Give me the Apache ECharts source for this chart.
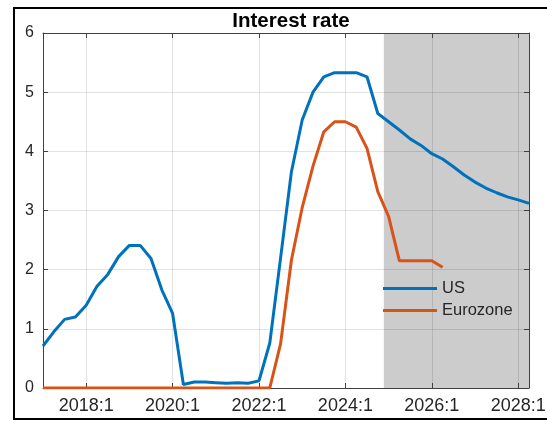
<!DOCTYPE html>
<html>
<head>
<meta charset="utf-8">
<script src="https://cdn.jsdelivr.net/npm/echarts@6/dist/echarts.min.js"></script>
<style>
html,body{margin:0;padding:0;background:#fff;}
#chart{width:547px;height:421px;}
</style>
</head>
<body>
<div id="chart"></div>
<script>
// Quarterly data starting 2017:1
const startYear = 2017;
const usRate = [0.71, 0.95, 1.16, 1.20, 1.40, 1.72, 1.92, 2.22, 2.41, 2.41,
  2.19, 1.66, 1.26, 0.06, 0.10, 0.10, 0.09, 0.08, 0.09, 0.08,
  0.12, 0.76, 2.20, 3.65, 4.53, 5.00, 5.26, 5.33, 5.33, 5.33,
  5.26, 4.64, 4.50, 4.36, 4.21, 4.10, 3.96, 3.87, 3.74, 3.60,
  3.48, 3.38, 3.30, 3.23, 3.18, 3.12];
const euroRate = [0, 0, 0, 0, 0, 0, 0, 0, 0, 0,
  0, 0, 0, 0, 0, 0, 0, 0, 0, 0,
  0, 0, 0.75, 2.16, 3.05, 3.75, 4.33, 4.50, 4.50, 4.41,
  4.05, 3.32, 2.90, 2.15, 2.15, 2.15, 2.15, 2.04];
const tickYears = [2018, 2020, 2022, 2024, 2026, 2028];
const forecastStart = 2024.89;
const xMax = 2028.25;

const toPairs = arr => arr.map((v, i) => [startYear + i / 4, v]);

const textColor = '#262626';
const axisColor = '#404040';
const font = 'Liberation Sans, Arial, sans-serif';

const chart = echarts.init(document.getElementById('chart'), null, {renderer: 'canvas'});
chart.setOption({
  animation: false,
  backgroundColor: '#fff',
  title: {
    text: 'Interest rate',
    left: 286, textAlign: 'center', top: 6,
    textStyle: {fontFamily: font, fontWeight: 'bold', fontSize: 20.5, color: '#000'}
  },
  grid: {left: 43, right: 18, top: 33, bottom: 33, containLabel: false, outerBoundsMode: 'none'},
  xAxis: [{
    type: 'value', min: startYear, max: xMax, z: 1,
    axisLine: {show: true, onZero: false, lineStyle: {color: axisColor, width: 1}},
    axisTick: {show: true, inside: true, length: 5, customValues: tickYears, lineStyle: {color: axisColor}},
    axisLabel: {customValues: tickYears, formatter: v => v + ':1', fontFamily: font, fontSize: 18, color: textColor, margin: 9},
    splitLine: {show: true, lineStyle: {color: 'rgba(0,0,0,0.11)', width: 1}}
  }, {
    type: 'value', min: startYear, max: xMax, position: 'top', z: 1,
    axisLine: {show: true, onZero: false, lineStyle: {color: axisColor, width: 1}},
    axisTick: {show: true, inside: true, length: 5, customValues: tickYears, lineStyle: {color: axisColor}},
    axisLabel: {show: false},
    splitLine: {show: false}
  }],
  yAxis: [{
    type: 'value', min: 0, max: 6, interval: 1, z: 1,
    axisLine: {show: true, onZero: false, lineStyle: {color: axisColor, width: 1}},
    axisTick: {show: true, inside: true, length: 5, lineStyle: {color: axisColor}},
    axisLabel: {fontFamily: font, fontSize: 16, color: textColor, margin: 9},
    splitLine: {show: true, lineStyle: {color: 'rgba(0,0,0,0.11)', width: 1}}
  }, {
    type: 'value', min: 0, max: 6, interval: 1, position: 'right', z: 1,
    axisLine: {show: true, onZero: false, lineStyle: {color: axisColor, width: 1}},
    axisTick: {show: true, inside: true, length: 5, lineStyle: {color: axisColor}},
    axisLabel: {show: false},
    splitLine: {show: false}
  }],
  legend: {
    left: 378, top: 275, orient: 'vertical', padding: 5,
    icon: 'rect', itemWidth: 54, itemHeight: 3, itemGap: 5,
    textStyle: {fontFamily: font, fontSize: 16.5, color: textColor, padding: [0, 0, 0, 0], lineHeight: 16},
    data: ['US', 'Eurozone']
  },
  series: [{
    type: 'line', name: 'shade', data: [], z: 0, silent: true,
    markArea: {
      silent: true, z: 0,
      itemStyle: {color: '#cccccc'},
      data: [[{xAxis: forecastStart}, {xAxis: xMax}]]
    }
  }, {
    type: 'line', name: 'US', data: toPairs(usRate),
    symbol: 'none', z: 3,
    lineStyle: {color: '#0072BD', width: 3}, itemStyle: {color: '#0072BD'}
  }, {
    type: 'line', name: 'Eurozone', data: toPairs(euroRate),
    symbol: 'none', z: 2,
    lineStyle: {color: '#D95319', width: 3}, itemStyle: {color: '#D95319'}
  }],
  graphic: [{
    type: 'rect', silent: true, z: 100,
    shape: {x: 14, y: 8, width: 560, height: 411},
    style: {fill: 'none', stroke: '#000', lineWidth: 2}
  }]
});
</script>
</body>
</html>
